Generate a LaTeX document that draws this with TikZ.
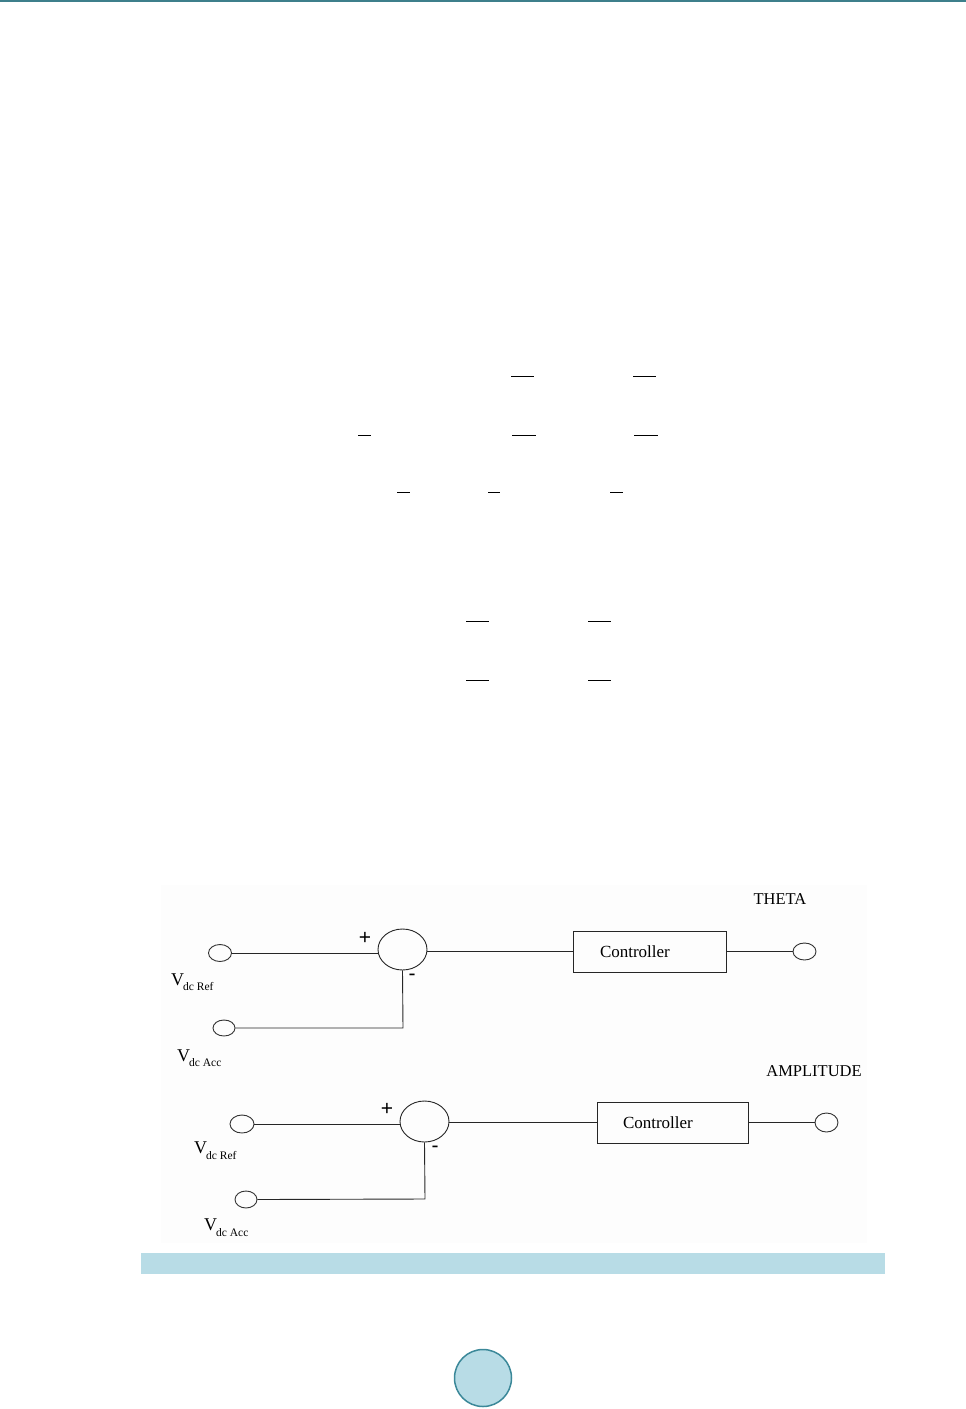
\documentclass[tikz,border=0pt]{standalone}
\usepackage{fontspec}
\setmainfont{Liberation Serif}
\newfontfamily\arialfont{Liberation Sans}
\usetikzlibrary{shapes.geometric}
\definecolor{teal1}{HTML}{3D7F8B}
\definecolor{capblue}{HTML}{B8DCE6}
\definecolor{pgring}{HTML}{3B8899}
\definecolor{imgbg}{HTML}{FDFDFD}
\begin{document}
\begin{tikzpicture}[x=1pt,y=-1pt,
  wire/.style={draw=black!85,line width=0.9pt},
  port/.style={ellipse,draw=black!80,line width=0.9pt,inner sep=0pt,minimum width=23pt,minimum height=17pt},
  summer/.style={ellipse,draw=black!85,line width=0.9pt,inner sep=0pt,minimum width=49pt,minimum height=41pt},
  ctrlbox/.style={rectangle,draw=black!85,line width=0.9pt,minimum height=41pt,inner ysep=0pt,align=left,
     font=\fontsize{17}{20}\selectfont},
  sign/.style={font=\arialfont\fontsize{21}{24}\selectfont,inner sep=0pt},
  biglbl/.style={font=\fontsize{16.5}{19}\selectfont,inner sep=0pt},
  vlbl/.style={font=\fontsize{18}{20}\selectfont,inner sep=0pt,anchor=base west},
  sublbl/.style={font=\fontsize{11.5}{13}\selectfont,inner sep=0pt,anchor=base west},
  fracbar/.style={line width=1pt,black}]
\useasboundingbox (0,0) rectangle (966,1409);
\fill[white] (0,0) rectangle (966,1409);
% top rule
\fill[teal1] (0,0) rectangle (966,2);
% fraction bars
\draw[fracbar] (511,376) -- (534,376);
\draw[fracbar] (633,376) -- (656,376);
\draw[fracbar] (358,435) -- (371,435);
\draw[fracbar] (512,435) -- (536,435);
\draw[fracbar] (634,435) -- (658,435);
\draw[fracbar] (397,492) -- (410,492);
\draw[fracbar] (488,492) -- (500,492);
\draw[fracbar] (610,492) -- (623,492);
\draw[fracbar] (466,621) -- (489,621);
\draw[fracbar] (588,621) -- (611,621);
\draw[fracbar] (466,680) -- (489,680);
\draw[fracbar] (588,680) -- (611,680);
% figure background
\fill[imgbg] (161,885) rectangle (867,1243);
% ---- upper loop ----
\node[port] (in1) at (220,953) {};
\node[summer] (sum1) at (402.5,949.5) {};
\node[ctrlbox,text width=99pt,inner xsep=27pt] (ctrl1) at (649.5,951.5) {Controller};
\node[port] (out1) at (804.5,951.5) {};
\node[port,minimum width=22pt,minimum height=16pt] (in2) at (224,1028) {};
\coordinate (c1) at (403,1028);
\draw[wire] (in1.east) -- (sum1.west |- in1.east);
\draw[wire] (sum1.east |- ctrl1.west) -- (ctrl1.west);
\draw[wire] (ctrl1.east) -- (out1.west);
\draw[wire] (sum1.south) -- (c1) -- (in2.east);
\node[sign] (p1) at (365,938) {+};
\node[sign] (m1) at (412,977) {-};
\node[biglbl] (theta) at (780,899) {THETA};
\node[vlbl] (vr1) at (171,985) {V};
\node[sublbl] (vr1s) at (183,990) {dc Ref};
\node[vlbl] (va1) at (177,1061) {V};
\node[sublbl] (va1s) at (189,1066) {dc Acc};
% ---- lower loop ----
\node[biglbl] (ampl) at (814,1071) {AMPLITUDE};
\node[port,minimum width=24pt,minimum height=18pt] (in3) at (242,1124) {};
\node[summer] (sum2) at (424.5,1121.5) {};
\node[ctrlbox,text width=99pt,inner xsep=26pt] (ctrl2) at (672.5,1122.5) {Controller};
\node[port,minimum height=19pt] (out2) at (826.5,1122.5) {};
\node[port,minimum width=22pt,minimum height=17pt] (in4) at (246,1199.5) {};
\coordinate (c2) at (425,1199);
\draw[wire] (in3.east) -- (sum2.west |- in3.east);
\draw[wire] (sum2.east |- ctrl2.west) -- (ctrl2.west);
\draw[wire] (ctrl2.east) -- (out2.west);
\draw[wire] (sum2.south) -- (c2) -- (in4.east);
\node[sign] (p2) at (387,1109) {+};
\node[sign] (m2) at (435,1149) {-};
\node[vlbl] (vr2) at (194,1153) {V};
\node[sublbl] (vr2s) at (206,1159) {dc Ref};
\node[vlbl] (va2) at (204,1230) {V};
\node[sublbl] (va2s) at (216,1236) {dc Acc};
% caption bar
\fill[capblue] (141,1253) rectangle (885,1274);
% page-number disc
\node[circle,fill=capblue,draw=pgring,line width=1.5pt,minimum size=57pt,inner sep=0pt] (pg) at (483,1378) {};
\end{tikzpicture}
\end{document}
